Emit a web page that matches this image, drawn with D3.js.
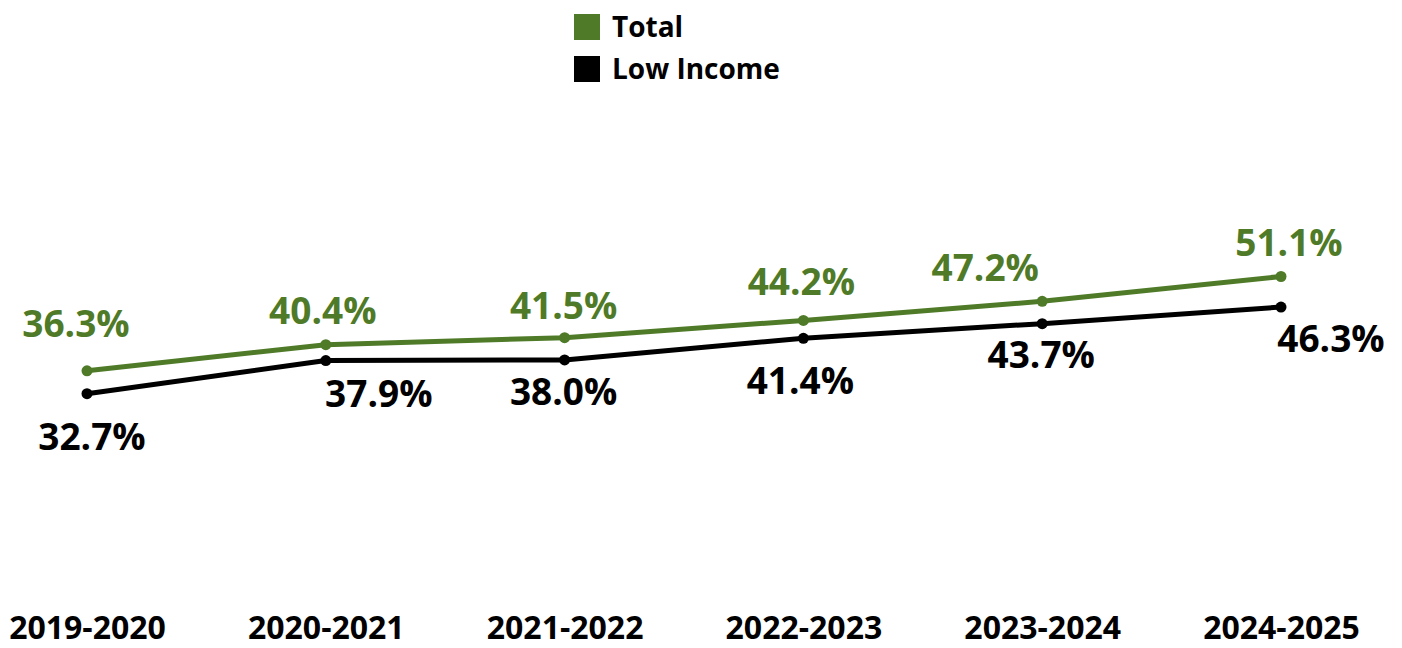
<!DOCTYPE html>
<html>
<head>
<meta charset="utf-8">
<script src="https://d3js.org/d3.v7.min.js"></script>
<style>
  body { margin: 0; background: #fff; }
  text { font-family: "Open Sans", "Noto Sans", sans-serif; font-weight: 700; }
</style>
</head>
<body>
<div id="chart"></div>
<script>

// chart data
var years = ["2019-2020", "2020-2021", "2021-2022", "2022-2023", "2023-2024", "2024-2025"];
var totalValues = [36.3, 40.4, 41.5, 44.2, 47.2, 51.1];
var lowIncomeValues = [32.7, 37.9, 38.0, 41.4, 43.7, 46.3];
var seriesNames = ["Total", "Low Income"];

// manual label nudges (dx, dy from point), like the hand-placed labels in the original
var totalNudge = [[-11, -34], [-3, -21], [-1, -19], [-2, -25], [-57, -20], [8, -20]];
var lowNudge = [[5, 56], [53, 46], [-1, 45], [-3, 56], [-1, 44], [50, 45]];

var W = 1402, H = 648;
var green = "#4f7b28", black = "#000000";

var svg = d3.select("#chart").append("svg")
    .attr("width", W)
    .attr("height", H);

var x = d3.scalePoint().domain(years).range([87, 1281]);
var y = d3.scaleLinear().domain([0, 60]).range([602, 219.8]);

// x axis labels only, no line
var xAxis = svg.append("g")
    .attr("transform", "translate(0,602)")
    .call(d3.axisBottom(x).tickSize(0).tickPadding(0));
xAxis.select(".domain").remove();
xAxis.selectAll("text")
    .attr("dy", null)
    .attr("y", 36.5)
    .attr("font-size", 32)
    .attr("font-family", null)
    .attr("fill", "#000");

function drawSeries(vals, col, nudge) {
    var pts = vals.map(function(v, i) { return { year: years[i], v: v, i: i }; });

    svg.append("path")
        .datum(pts)
        .attr("fill", "none")
        .attr("stroke", col)
        .attr("stroke-width", 5)
        .attr("stroke-linejoin", "round")
        .attr("d", d3.line()
            .x(function(d) { return x(d.year); })
            .y(function(d) { return y(d.v); }));

    svg.append("g").selectAll("circle")
        .data(pts)
        .enter().append("circle")
        .attr("cx", function(d) { return x(d.year); })
        .attr("cy", function(d) { return y(d.v); })
        .attr("r", 5.5)
        .attr("fill", col);

    svg.append("g").selectAll("text")
        .data(pts)
        .enter().append("text")
        .attr("x", function(d) { return x(d.year) + nudge[d.i][0]; })
        .attr("y", function(d) { return y(d.v) + nudge[d.i][1]; })
        .attr("text-anchor", "middle")
        .attr("font-size", 37)
        .attr("fill", col)
        .text(function(d) { return d3.format(".1f")(d.v) + "%"; });
}

drawSeries(totalValues, green, totalNudge);
drawSeries(lowIncomeValues, black, lowNudge);

// legend
var legend = svg.append("g").attr("transform", "translate(574,14)");
var lg = legend.selectAll("g")
    .data(seriesNames)
    .enter().append("g")
    .attr("transform", function(d, i) { return "translate(0," + (i * 42) + ")"; });
lg.append("rect")
    .attr("width", 26)
    .attr("height", 26)
    .attr("fill", function(d, i) { return i == 0 ? green : black; });
lg.append("text")
    .attr("x", 38)
    .attr("y", 23)
    .attr("font-size", 28)
    .attr("fill", "#000")
    .text(function(d) { return d; });

</script>
</body>
</html>
